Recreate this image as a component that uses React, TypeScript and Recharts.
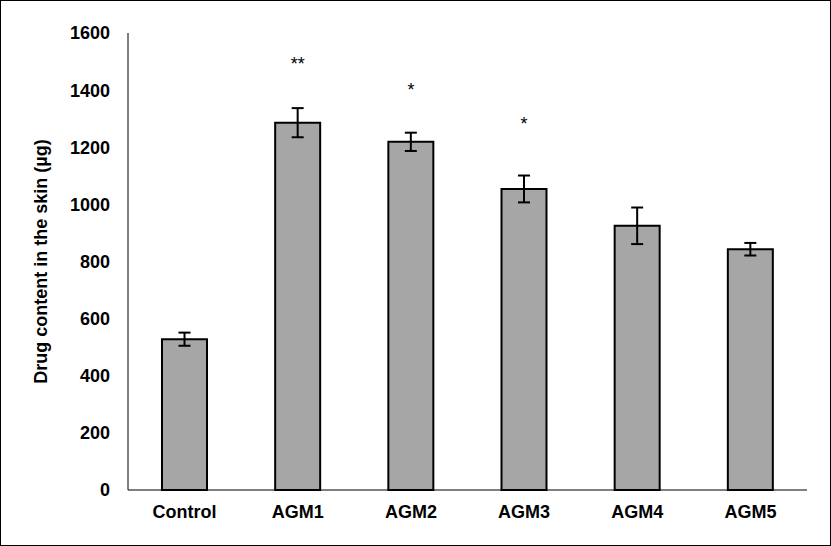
import React from 'react';
import {
  ComposedChart,
  Bar,
  Line,
  XAxis,
  YAxis,
  ErrorBar,
  LabelList,
  Label,
} from 'recharts';

const groups = ['Control', 'AGM1', 'AGM2', 'AGM3', 'AGM4', 'AGM5'];
const drugContent = [528, 1286, 1219, 1054, 925, 843];
const sdValues = [23, 51, 32, 47, 64, 22];
// significance marks and the level (µg) they sit at
const sigMarks = ['', '**', '*', '*', '', ''];
const sigLevel = [null, 1470, 1378, 1259, null, null];
const yTicks = [0, 200, 400, 600, 800, 1000, 1200, 1400, 1600];

const chartData = groups.map((g, i) => ({
  group: g,
  content: drugContent[i],
  sd: sdValues[i],
  sig: sigMarks[i],
  sigY: sigLevel[i],
}));

const FONT = '"Liberation Sans", Arial, sans-serif';

const SigLabel = (props: any) => {
  const { x, y, value } = props;
  if (!value || y == null || isNaN(y)) return null;
  return (
    <text x={x} y={y} textAnchor="middle" fontFamily={FONT} fontSize={18} fill="#000">
      {value}
    </text>
  );
};

const YTitle = (props: any) => {
  const vb = props.viewBox || {};
  const cx = 40;
  const cy = vb.y + vb.height / 2;
  return (
    <text
      x={cx}
      y={cy}
      transform={`rotate(-90 ${cx} ${cy})`}
      textAnchor="middle"
      dominantBaseline="central"
      fontFamily={FONT}
      fontWeight="bold"
      fontSize={18}
      fill="#000"
    >
      Drug content in the skin (µg)
    </text>
  );
};

export default function App() {
  return (
    <div
      style={{
        position: 'absolute',
        left: 0,
        top: 0,
        width: 831,
        height: 546,
        border: '1px solid #000',
        boxSizing: 'border-box',
        background: '#fff',
      }}
    >
      <ComposedChart
        width={829}
        height={544}
        data={chartData}
        margin={{ top: 32, right: 23, bottom: 25, left: 20 }}
        style={{ fontFamily: FONT }}
      >
        <XAxis
          dataKey="group"
          axisLine={{ stroke: '#000', strokeWidth: 1 }}
          tickLine={false}
          tickSize={0}
          tickMargin={15}
          tick={{ fill: '#000', fontSize: 18, fontWeight: 'bold', fontFamily: FONT }}
        />
        <YAxis
          width={107}
          domain={[0, 1600]}
          ticks={yTicks}
          axisLine={{ stroke: '#000', strokeWidth: 1 }}
          tickLine={false}
          tickSize={0}
          tickMargin={18}
          tick={{ fill: '#000', fontSize: 18, fontWeight: 'bold', fontFamily: FONT }}
        >
          <Label content={<YTitle />} />
        </YAxis>
        <Bar
          dataKey="content"
          fill="#A6A6A6"
          stroke="#000"
          strokeWidth={2}
          barSize={45}
          isAnimationActive={false}
        >
          <ErrorBar dataKey="sd" width={6} stroke="#000" strokeWidth={2} />
        </Bar>
        <Line
          dataKey="sigY"
          stroke="none"
          dot={false}
          activeDot={false}
          connectNulls={false}
          isAnimationActive={false}
        >
          <LabelList dataKey="sig" content={<SigLabel />} />
        </Line>
      </ComposedChart>
    </div>
  );
}
